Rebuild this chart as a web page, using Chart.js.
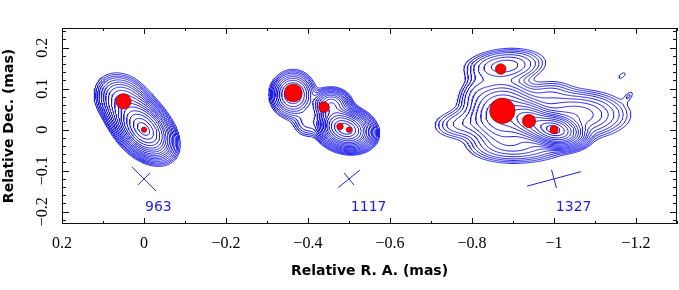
<!DOCTYPE html>
<html>
<head>
<meta charset="utf-8">
<script src="https://cdn.jsdelivr.net/npm/chart.js@4.4.1/dist/chart.umd.min.js"></script>
<style>
  html, body { margin: 0; padding: 0; background: #fff; }
  canvas { display: block; }
</style>
</head>
<body>
<canvas id="map" width="679" height="290"></canvas>
<script>
// source labels (epochs) and where they sit on the map (mas)
const srcNames = ['963', '1117', '1327'];
const labelX = [-0.035, -0.548, -1.048];
const labelY = [-0.189, -0.189, -0.189];

// gaussian components of the brightness model that the contours are traced from
// 963: M1 M3 M2 | 1117: C1 C2 B A AC | 1327: E1 E2 E3 E4 E5 E6 E7 E8 E9 T1 T2
const gX   = [0.0, 0.0268, 0.0561,  -0.495, -0.471, -0.4561, -0.3634, -0.4,  -1.0, -0.9415, -0.8756, -0.8805, -1.0512, -0.778, -0.912, -0.9854, -0.8073, -1.183, -1.166];
const gY   = [0.0, 0.039,  0.0756,   0.0,    0.0146, 0.061,   0.0854, 0.0195, 0.0, 0.022,   0.0366,  0.156,   0.0366,  0.0146, -0.0415, 0.0854, 0.0927, 0.083,  0.132];
const gAmp = [1.0, 0.12,   0.06,     1.0,    0.3,    0.18,    0.14,   0.02,   1.0, 0.3,     0.15,    0.04,    0.06,    0.018,  0.03,    0.012,  0.01,   0.005,  0.0048];
const gMaj = [0.0317, 0.0341, 0.0293, 0.0244, 0.0195, 0.0195, 0.0232, 0.0195, 0.029, 0.0268, 0.039, 0.0463, 0.0585, 0.039, 0.0585, 0.034, 0.0293, 0.0122, 0.0146];
const gMin = [0.0207, 0.0244, 0.0244, 0.0183, 0.0195, 0.0159, 0.022, 0.0195, 0.016, 0.0195, 0.0366, 0.0195, 0.0268, 0.0195, 0.0195, 0.0195, 0.0195, 0.0061, 0.0073];
const gPA  = [46, 46, 40, 14, 0, 0, 90, 0, 12, 20, 10, -5, 0, -5, 0, -10, -50, -50, -40];

// contour levels, fraction of peak
const levels = [0.004, 0.0057, 0.008, 0.011, 0.016, 0.023, 0.032, 0.045, 0.064, 0.09, 0.13, 0.18, 0.25, 0.36, 0.5, 0.7, 0.9];

// model-fit components (red circles): position and radius in mas
const compX = [0.050, 0.0, -0.364, -0.439, -0.478, -0.500, -0.870, -0.874, -0.939, -1.000];
const compY = [0.069, 0.0, 0.0895, 0.055, 0.008, 0.0, 0.148, 0.046, 0.021, 0.0];
const compR = [0.0188, 0.0066, 0.022, 0.013, 0.008, 0.0066, 0.013, 0.031, 0.0163, 0.0098];

// restoring beams drawn as crosses: centre, half axes (mas), angle of major axis (deg)
const beamX   = [0.0, -0.5, -1.0];
const beamY   = [-0.12, -0.12, -0.12];
const beamMaj = [0.0417, 0.034, 0.068];
const beamMin = [0.021, 0.019, 0.023];
const beamPA  = [45, -39, -15];

const xMin = -1.3, xMax = 0.2, yMin = -0.23, yMax = 0.248;
const BLUE = '#1e1ee8';

// --- brightness grid ---
const step = 0.0025;
const nx = Math.round((xMax - xMin) / step) + 1;
const ny = Math.round((yMax - yMin) / step) + 1;
const cosA = gPA.map(a => Math.cos(a * Math.PI / 180));
const sinA = gPA.map(a => Math.sin(a * Math.PI / 180));
const grid = new Float64Array(nx * ny);
for (let j = 0; j < ny; j++) {
  const y = yMin + j * step;
  for (let i = 0; i < nx; i++) {
    const x = xMin + i * step;
    let v = 0;
    for (let k = 0; k < gX.length; k++) {
      const dx = x - gX[k], dy = y - gY[k];
      const u = dx * cosA[k] + dy * sinA[k];
      const w = -dx * sinA[k] + dy * cosA[k];
      const q = (u * u) / (gMaj[k] * gMaj[k]) + (w * w) / (gMin[k] * gMin[k]);
      if (q < 60) v += gAmp[k] * Math.exp(-0.5 * q);
    }
    grid[j * nx + i] = v;
  }
}

// marching squares, segments chained into polylines
const CASES = {
  1: [[3, 0]], 2: [[0, 1]], 3: [[3, 1]], 4: [[1, 2]], 6: [[0, 2]], 7: [[3, 2]],
  8: [[2, 3]], 9: [[0, 2]], 11: [[1, 2]], 12: [[1, 3]], 13: [[0, 1]], 14: [[0, 3]]
};
function traceLevel(level, out) {
  const pts = new Map();
  const adj = new Map();
  const val = (i, j) => grid[j * nx + i];
  function edgePoint(i, j, e) {
    // e: 0 bottom, 1 right, 2 top, 3 left of cell (i,j)
    let id, ax, ay, bx, by;
    if (e === 0) { id = (j * nx + i) * 2; ax = i; ay = j; bx = i + 1; by = j; }
    else if (e === 2) { id = ((j + 1) * nx + i) * 2; ax = i; ay = j + 1; bx = i + 1; by = j + 1; }
    else if (e === 3) { id = (j * nx + i) * 2 + 1; ax = i; ay = j; bx = i; by = j + 1; }
    else { id = (j * nx + i + 1) * 2 + 1; ax = i + 1; ay = j; bx = i + 1; by = j + 1; }
    if (!pts.has(id)) {
      const va = val(ax, ay), vb = val(bx, by);
      const t = (level - va) / (vb - va);
      pts.set(id, { x: xMin + (ax + t * (bx - ax)) * step, y: yMin + (ay + t * (by - ay)) * step });
    }
    return id;
  }
  function link(a, b) {
    if (!adj.has(a)) adj.set(a, []);
    if (!adj.has(b)) adj.set(b, []);
    adj.get(a).push(b);
    adj.get(b).push(a);
  }
  for (let j = 0; j < ny - 1; j++) {
    for (let i = 0; i < nx - 1; i++) {
      const v0 = val(i, j), v1 = val(i + 1, j), v2 = val(i + 1, j + 1), v3 = val(i, j + 1);
      const c = (v0 > level ? 1 : 0) | (v1 > level ? 2 : 0) | (v2 > level ? 4 : 0) | (v3 > level ? 8 : 0);
      if (c === 0 || c === 15) continue;
      let segs = CASES[c];
      if (c === 5 || c === 10) {
        const mid = (v0 + v1 + v2 + v3) / 4 > level;
        if (c === 5) segs = mid ? [[0, 1], [2, 3]] : [[3, 0], [1, 2]];
        else segs = mid ? [[3, 0], [1, 2]] : [[0, 1], [2, 3]];
      }
      for (const [ea, eb] of segs) link(edgePoint(i, j, ea), edgePoint(i, j, eb));
    }
  }
  const seen = new Set();
  const walk = (start) => {
    let prev = -1, cur = start;
    const line = [];
    while (cur !== undefined && !seen.has(cur)) {
      seen.add(cur);
      line.push(pts.get(cur));
      const nb = adj.get(cur).filter(n => n !== prev && !seen.has(n));
      prev = cur;
      cur = nb[0];
    }
    if (adj.get(prev) && adj.get(prev).includes(start) && line.length > 2) line.push(pts.get(start));
    for (const p of line) out.push(p);
    out.push({ x: NaN, y: NaN });
  };
  for (const [id, nb] of adj) if (nb.length === 1 && !seen.has(id)) walk(id);
  for (const id of adj.keys()) if (!seen.has(id)) walk(id);
}

const contourData = [];
levels.forEach(l => traceLevel(l, contourData));

// beam crosses
const beamData = [];
beamX.forEach((bx, i) => {
  const a = beamPA[i] * Math.PI / 180, b = a + Math.PI / 2;
  beamData.push({ x: bx - beamMaj[i] * Math.cos(a), y: beamY[i] - beamMaj[i] * Math.sin(a) });
  beamData.push({ x: bx + beamMaj[i] * Math.cos(a), y: beamY[i] + beamMaj[i] * Math.sin(a) });
  beamData.push({ x: NaN, y: NaN });
  beamData.push({ x: bx - beamMin[i] * Math.cos(b), y: beamY[i] - beamMin[i] * Math.sin(b) });
  beamData.push({ x: bx + beamMin[i] * Math.cos(b), y: beamY[i] + beamMin[i] * Math.sin(b) });
  beamData.push({ x: NaN, y: NaN });
});

const fmt = v => {
  const r = Math.round(v * 10) / 10;
  if (r === 0) return '0';
  return (r < 0 ? '\u2212' : '') + Math.abs(r);
};

// frame, inward ticks, y tick labels and source labels
const framePlugin = {
  id: 'frame',
  afterDraw(chart) {
    const { ctx, chartArea: a, scales: { x, y } } = chart;
    ctx.save();
    ctx.strokeStyle = '#111';
    ctx.lineWidth = 1;
    ctx.strokeRect(a.left + 0.5, a.top + 0.5, a.right - a.left - 1, a.bottom - a.top - 1);
    ctx.beginPath();
    for (let k = Math.ceil(xMin / 0.1 - 1e-6); k <= Math.floor(xMax / 0.1 + 1e-6); k++) {
      const px = Math.round(x.getPixelForValue(k * 0.1)) + 0.5;
      const len = k % 2 === 0 ? 6 : 3;
      ctx.moveTo(px, a.bottom); ctx.lineTo(px, a.bottom - len);
      ctx.moveTo(px, a.top); ctx.lineTo(px, a.top + len);
    }
    for (let k = Math.ceil(yMin / 0.02 - 1e-6); k <= Math.floor(yMax / 0.02 + 1e-6); k++) {
      const py = Math.round(y.getPixelForValue(k * 0.02)) + 0.5;
      const len = k % 5 === 0 ? 7 : 4;
      ctx.moveTo(a.left, py); ctx.lineTo(a.left + len, py);
      ctx.moveTo(a.right, py); ctx.lineTo(a.right - len, py);
    }
    ctx.stroke();

    ctx.fillStyle = '#000';
    ctx.font = '16px "Liberation Serif"';
    ctx.textAlign = 'center';
    ctx.textBaseline = 'middle';
    y.ticks.forEach(t => {
      ctx.save();
      ctx.translate(43, y.getPixelForValue(t.value));
      ctx.rotate(-Math.PI / 2);
      ctx.fillText(fmt(t.value), 0, 0);
      ctx.restore();
    });

    ctx.fillStyle = BLUE;
    ctx.font = '14px "DejaVu Sans"';
    srcNames.forEach((s, i) => {
      ctx.fillText(s, x.getPixelForValue(labelX[i]), y.getPixelForValue(labelY[i]));
    });
    ctx.restore();
  }
};

new Chart(document.getElementById('map'), {
  type: 'scatter',
  data: {
    datasets: [
      {
        label: 'components',
        data: compX.map((v, i) => ({ x: v, y: compY[i] })),
        backgroundColor: '#ff0000',
        borderColor: '#7a0000',
        borderWidth: 0.6,
        pointRadius: c => {
          const s = c.chart.scales.x;
          return Math.abs(s.getPixelForValue(0) - s.getPixelForValue(compR[c.dataIndex]));
        },
        order: 0
      },
      {
        label: 'contours',
        data: contourData,
        showLine: true,
        spanGaps: false,
        borderColor: BLUE,
        borderWidth: 1,
        pointRadius: 0,
        order: 2
      },
      {
        label: 'beams',
        data: beamData,
        showLine: true,
        spanGaps: false,
        borderColor: BLUE,
        borderWidth: 1,
        pointRadius: 0,
        order: 1
      }
    ]
  },
  options: {
    responsive: false,
    animation: false,
    events: [],
    layout: { padding: { top: 28, right: 2, left: 0, bottom: 0 } },
    plugins: { legend: { display: false }, tooltip: { enabled: false } },
    scales: {
      x: {
        type: 'linear', min: xMin, max: xMax, reverse: true,
        grid: { display: false, drawTicks: false },
        border: { display: false },
        ticks: {
          stepSize: 0.2, includeBounds: false, autoSkip: false, maxRotation: 0, padding: 10,
          color: '#000', font: { family: 'Liberation Serif', size: 16 }, callback: fmt
        },
        title: {
          display: true, text: 'Relative R. A. (mas)', color: '#000', padding: 10,
          font: { family: 'DejaVu Sans', size: 14, weight: 'bold' }
        },
        afterFit: s => { s.height = 66; }
      },
      y: {
        type: 'linear', min: yMin, max: yMax,
        grid: { display: false, drawTicks: false },
        border: { display: false },
        ticks: { stepSize: 0.1, includeBounds: false, display: false },
        title: {
          display: true, text: 'Relative Dec. (mas)', color: '#000', padding: 1,
          font: { family: 'DejaVu Sans', size: 14, weight: 'bold' }
        },
        afterFit: s => { s.width = 62; }
      }
    }
  },
  plugins: [framePlugin]
});
</script>
</body>
</html>
